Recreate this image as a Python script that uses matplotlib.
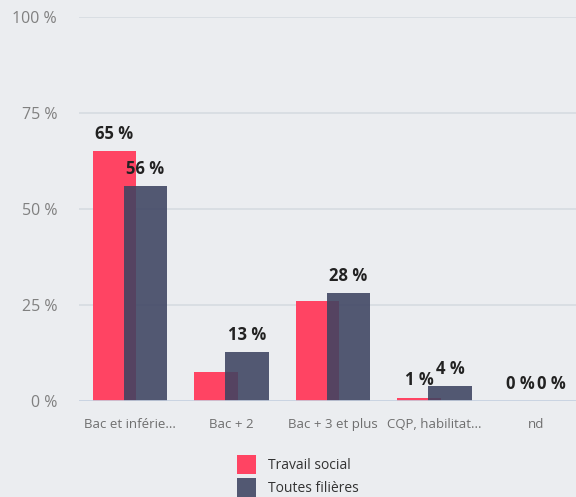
import matplotlib
matplotlib.use("Agg")
import matplotlib.pyplot as plt
import numpy as np

categories = ["Bac et inférie...", "Bac + 2", "Bac + 3 et plus", "CQP, habilitat...", "nd"]
travail_social = [65, 7.6, 26, 0.9, 0]
toutes_filieres = [56, 12.7, 28, 3.8, 0]
series_names = ["Travail social", "Toutes filières"]
show_ts_label = [True, False, False, True, True]
show_tf_label = [True, True, True, True, True]
y_ticks = [0, 25, 50, 75, 100]

BG = "#ebedf0"
RED = "#ff4463"
DARK = "#3d4361"

plt.rcParams['font.family'] = ['Open Sans', 'DejaVu Sans']

W, H = 576, 497
fig = plt.figure(figsize=(W / 100, H / 100), dpi=100, facecolor=BG)
left_px, right_px = 79.25, 586.75
top_px, bottom_px = 17, 401
ax = fig.add_axes([left_px / W, 1 - bottom_px / H, (right_px - left_px) / W, (bottom_px - top_px) / H])
ax.set_facecolor(BG)

x = np.arange(len(categories))
bw = 0.433
off = 0.1525
b1 = ax.bar(x - off, travail_social, bw, color=RED, alpha=1.0, zorder=3, label=series_names[0])
b2 = ax.bar(x + off, toutes_filieres, bw, color=DARK, alpha=0.88, zorder=4, label=series_names[1])

for xi, v, s in zip(x, travail_social, show_ts_label):
    if s:
        ax.annotate(f"{v:.0f} %", (xi - off, v), xytext=(0, 6), textcoords="offset points",
                    ha="center", va="bottom", fontsize=12, fontweight="bold", color="#222222", zorder=6)
for xi, v, s in zip(x, toutes_filieres, show_tf_label):
    if s:
        ax.annotate(f"{v:.0f} %", (xi + off, v), xytext=(0, 6), textcoords="offset points",
                    ha="center", va="bottom", fontsize=12, fontweight="bold", color="#222222", zorder=6)

ax.set_xlim(-0.5, len(categories) - 0.5)
ax.set_ylim(0, 100)
ax.set_yticks(y_ticks)
ax.set_yticklabels([f"{t} %" for t in y_ticks])
ax.set_xticks(x)
ax.set_xticklabels(categories)
ax.tick_params(axis="y", length=0, pad=16, labelsize=11.5, labelcolor="#808080")
ax.tick_params(axis="x", length=0, pad=12, labelsize=9.5, labelcolor="#6e6e6e")
ax.grid(axis="y", color="#d6dbe1", linewidth=1.2, zorder=0)
ax.set_axisbelow(True)
for sp in ax.spines.values():
    sp.set_visible(False)
ax.axhline(0, color="#c8d2e2", linewidth=1.2, zorder=5)

fig.legend(handles=[b1, b2], labels=series_names, loc="upper left",
           bbox_to_anchor=(237 / W, 1 - 455 / H), frameon=False, borderpad=0,
           borderaxespad=0, fontsize=10, handlelength=1.4, handleheight=1.75,
           handletextpad=0.85, labelspacing=0.3, labelcolor="#333333")

fig.savefig("out.png", dpi=100, facecolor=BG)
